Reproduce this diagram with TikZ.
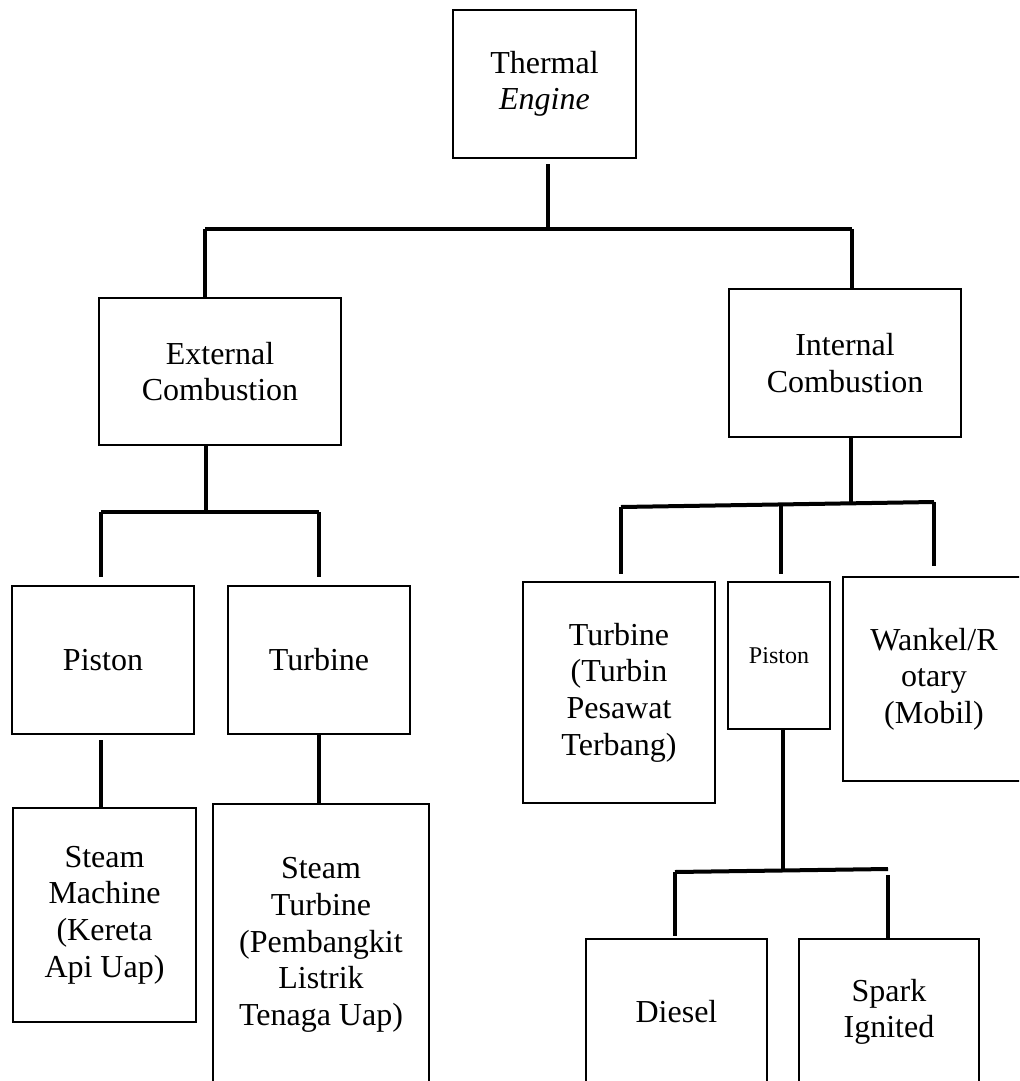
\documentclass[tikz,border=0pt]{standalone}
\usepackage{fontspec}
\setmainfont{Liberation Serif}
\usepackage{tikz}
\usetikzlibrary{positioning,calc}

\tikzset{
    box/.style={draw, line width=1pt, align=center, inner sep=0pt,
        font=\fontsize{16}{18.3}\selectfont},
    link/.style={line width=2pt}
}

\begin{document}
\begin{tikzpicture}[x=0.5pt, y=-0.5pt]
    \useasboundingbox (0,0) rectangle (1019,1081);
    \clip (0,0) rectangle (1019,1081);

    % Top level
    \node[box, minimum width=91.5pt, minimum height=74pt] (thermal) at (544.5,84) {Thermal\\\textit{Engine}};

    % Second level
    \node[box, minimum width=121pt, minimum height=73.5pt] (ext) at (220,371.5) {External\\Combustion};
    \node[box, minimum width=116pt, minimum height=74pt] (int) at (845,363) {Internal\\Combustion};

    % External branch
    \node[box, minimum width=91pt, minimum height=74pt] (pistonE) at (103,660) {Piston};
    \node[box, minimum width=91pt, minimum height=74pt] (turbE) at (319,660) {Turbine};
    \node[box, minimum width=91.5pt, minimum height=107pt] (steamM) at (104.5,915) {Steam\\Machine\\(Kereta\\Api Uap)};
    \node[box, minimum width=108pt, minimum height=141pt] (steamT) at (321,945) {Steam\\Turbine\\(Pembangkit\\Listrik\\Tenaga Uap)};

    % Internal branch
    \node[box, minimum width=96pt, minimum height=110.5pt] (turbI) at (619,692.5) {Turbine\\(Turbin\\Pesawat\\Terbang)};
    \node[box, minimum width=51pt, minimum height=73.5pt, font=\fontsize{12}{14}\selectfont] (pistonI) at (779,655.5) {Piston};
    \node[box, minimum width=91pt, minimum height=102pt] (wankel) at (934,679) {Wankel/R\\otary\\(Mobil)};
    \node[box, minimum width=90.5pt, minimum height=73pt] (diesel) at (676.5,1012) {Diesel};
    \node[box, minimum width=90pt, minimum height=73pt] (spark) at (889,1012) {Spark\\Ignited};

    % Junctions
    \coordinate (tJ) at (548,229);
    \coordinate (tL) at (205,229);
    \coordinate (tR) at (852,229);
    \coordinate (eJ) at (206,512);
    \coordinate (eL) at (101,512);
    \coordinate (eR) at (319,512);
    \coordinate (iJ) at (851,504);
    \coordinate (iL) at (621,507);
    \coordinate (iM) at (781,506);
    \coordinate (iR) at (934,502);
    \coordinate (pJ) at (783,871);
    \coordinate (pL) at (675,872);
    \coordinate (pR) at (888,869);

    % Thermal tree
    \draw[link, shorten <=2.5pt] (thermal.south -| tJ) -- (tJ);
    \draw[link] (tL) -- (tR);
    \draw[link] (tL) -- (tL |- ext.north);
    \draw[link] (tR) -- (tR |- int.north);

    % External tree
    \draw[link] (ext.south -| eJ) -- (eJ);
    \draw[link] (eL) -- (eR);
    \draw[link, shorten >=4pt] (eL) -- (eL |- pistonE.north);
    \draw[link, shorten >=4pt] (eR) -- (eR |- turbE.north);
    \draw[link, shorten <=2.5pt] (pistonE.south -| eL) -- (eL |- steamM.north);
    \draw[link] (turbE.south -| eR) -- (eR |- steamT.north);

    % Internal tree
    \draw[link] (int.south -| iJ) -- (iJ);
    \draw[link] (iL) -- (iR);
    \draw[link, shorten >=3.5pt] (iL) -- (iL |- turbI.north);
    \draw[link, shorten >=3.5pt] (iM) -- (iM |- pistonI.north);
    \draw[link, shorten >=5pt] (iR) -- (iR |- wankel.north);

    % Piston tree
    \draw[link] (pistonI.south -| pJ) -- (pJ);
    \draw[link] (pL) -- (pR);
    \draw[link, shorten >=1pt] (pL) -- (pL |- diesel.north);
    \draw[link, shorten <=3pt] (pR) -- (pR |- spark.north);
\end{tikzpicture}
\end{document}
